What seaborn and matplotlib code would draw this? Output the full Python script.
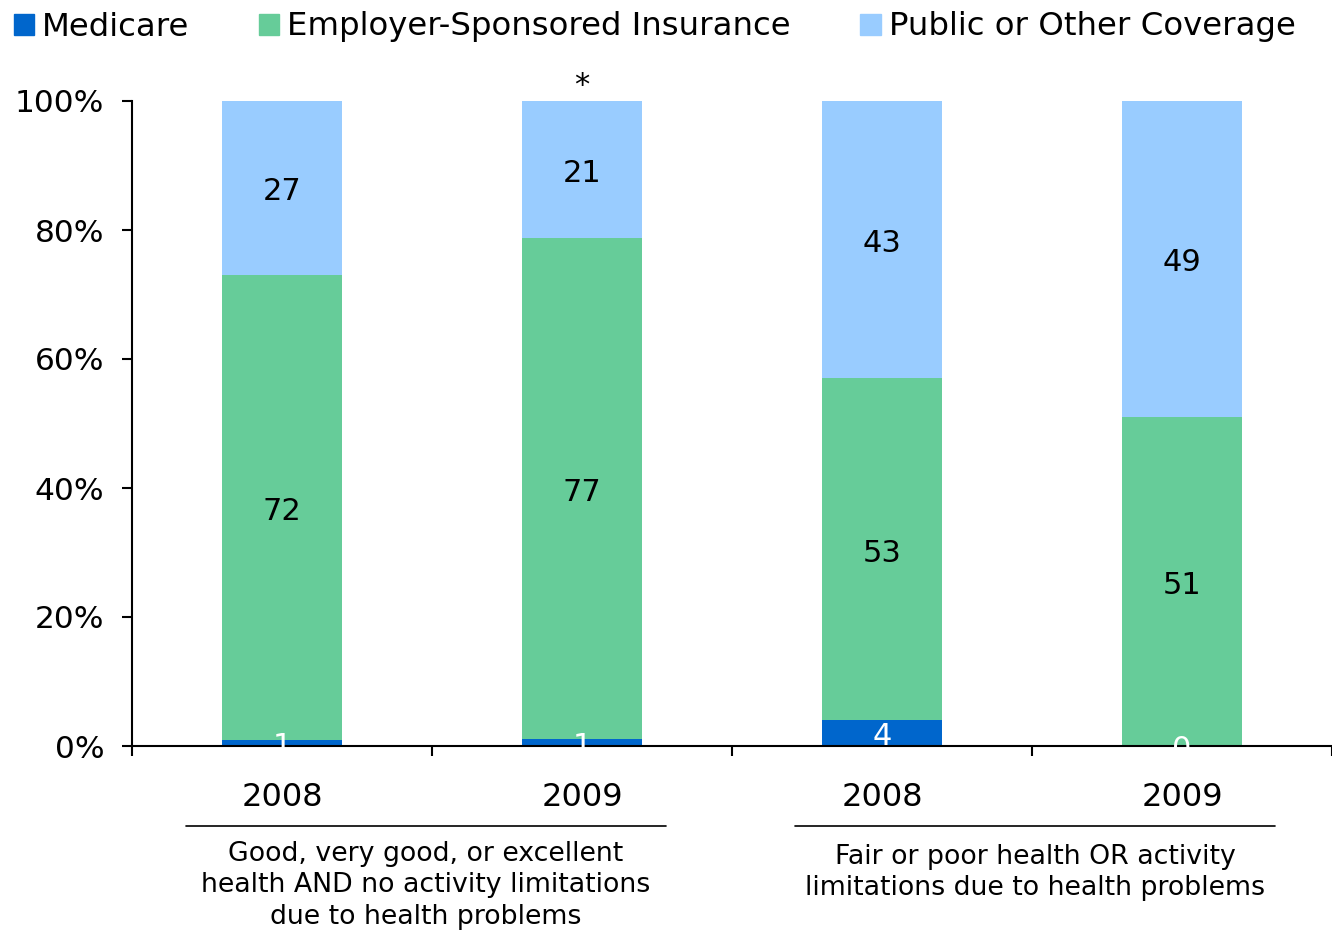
import matplotlib
matplotlib.use("Agg")
import matplotlib.pyplot as plt
import matplotlib.patches as mpatches
import pandas as pd
import seaborn as sns

# chart data
bars = ["Good 2008", "Good 2009", "Fair 2008", "Fair 2009"]
years = ["2008", "2009", "2008", "2009"]
medicare = [1, 1, 4, 0]
employer = [72, 77, 53, 51]
public = [27, 21, 43, 49]
groups = ["Good, very good, or excellent\nhealth AND no activity limitations\ndue to health problems",
          "Fair or poor health OR activity\nlimitations due to health problems"]
series = ["Medicare", "Employer-Sponsored Insurance", "Public or Other Coverage"]
colors = ["#0066CC", "#66CC99", "#99CCFF"]

df = pd.DataFrame({"bar": bars, "Medicare": medicare,
                   "Employer": employer, "Public": public})
# 100% stacked: normalise each bar to its total
total = df["Medicare"] + df["Employer"] + df["Public"]
df["med_top"] = df["Medicare"] / total * 100
df["emp_top"] = (df["Medicare"] + df["Employer"]) / total * 100
df["pub_top"] = 100.0

sns.set_style("white")
plt.rcParams["font.family"] = ["DejaVu Sans"]
plt.rcParams["text.color"] = "black"
plt.rcParams["xtick.color"] = "black"
plt.rcParams["ytick.color"] = "black"

fig = plt.figure(figsize=(13.32, 9.30), dpi=100)
ax = fig.add_axes([132 / 1332, 184 / 930, 1200 / 1332, 645 / 930])

# stacked bars: draw cumulative tops, tallest first
sns.barplot(data=df, x="bar", y="pub_top", color=colors[2], saturation=1,
            width=0.4, linewidth=0, ax=ax)
sns.barplot(data=df, x="bar", y="emp_top", color=colors[1], saturation=1,
            width=0.4, linewidth=0, ax=ax)
sns.barplot(data=df, x="bar", y="med_top", color=colors[0], saturation=1,
            width=0.4, linewidth=0, ax=ax)

# segment labels
for i, row in df.iterrows():
    ax.text(i, row["med_top"] / 2 - 0.6, str(row["Medicare"]), ha="center",
            va="center", color="white", fontsize=22)
    ax.text(i, (row["med_top"] + row["emp_top"]) / 2 - 0.6, str(row["Employer"]),
            ha="center", va="center", color="black", fontsize=22)
    ax.text(i, (row["emp_top"] + 100) / 2 - 0.6, str(row["Public"]),
            ha="center", va="center", color="black", fontsize=22)

ax.text(1, 100.2, "*", ha="center", va="bottom", fontsize=22)

ax.set_xlim(-0.5, 3.5)
ax.set_ylim(0, 100)
ax.set_yticks([0, 20, 40, 60, 80, 100])
ax.set_yticklabels([f"{v}%" for v in [0, 20, 40, 60, 80, 100]])
ax.set_xticks(range(4))
ax.set_xticklabels(years)
ax.set_xticks([-0.5, 0.5, 1.5, 2.5, 3.5], minor=True)
ax.tick_params(axis="x", which="major", length=0, pad=26, labelsize=23)
ax.tick_params(axis="x", which="minor", length=7, width=1.5, direction="out",
               bottom=True, color="black")
ax.tick_params(axis="y", length=7, width=1.5, pad=13, labelsize=22.5,
               direction="out", left=True, color="black")
ax.set_xlabel("")
ax.set_ylabel("")

sns.despine(ax=ax, top=True, right=True)
for s in ["left", "bottom"]:
    ax.spines[s].set_color("black")
    ax.spines[s].set_linewidth(1.5)

# group labels with separator lines
trans = ax.get_xaxis_transform()
for center, text, ytop in zip([0.48, 2.51], groups, [-0.147, -0.152]):
    ax.plot([center - 0.8, center + 0.8], [-0.124, -0.124], color="black",
            lw=1.2, transform=trans, clip_on=False)
    ax.text(center, ytop, text, ha="center", va="top", fontsize=19.3,
            linespacing=1.27, transform=trans)

handles = [mpatches.Patch(color=c, label=s) for c, s in zip(colors, series)]
fig.legend(handles=handles, loc="center left", bbox_to_anchor=(14 / 1332, 1 - 27 / 930),
           ncol=3, frameon=False, fontsize=23.3, handlelength=0.62, handleheight=0.62,
           handletextpad=0.25, columnspacing=2.15, borderpad=0, borderaxespad=0)

fig.savefig("out.png", dpi=100)
